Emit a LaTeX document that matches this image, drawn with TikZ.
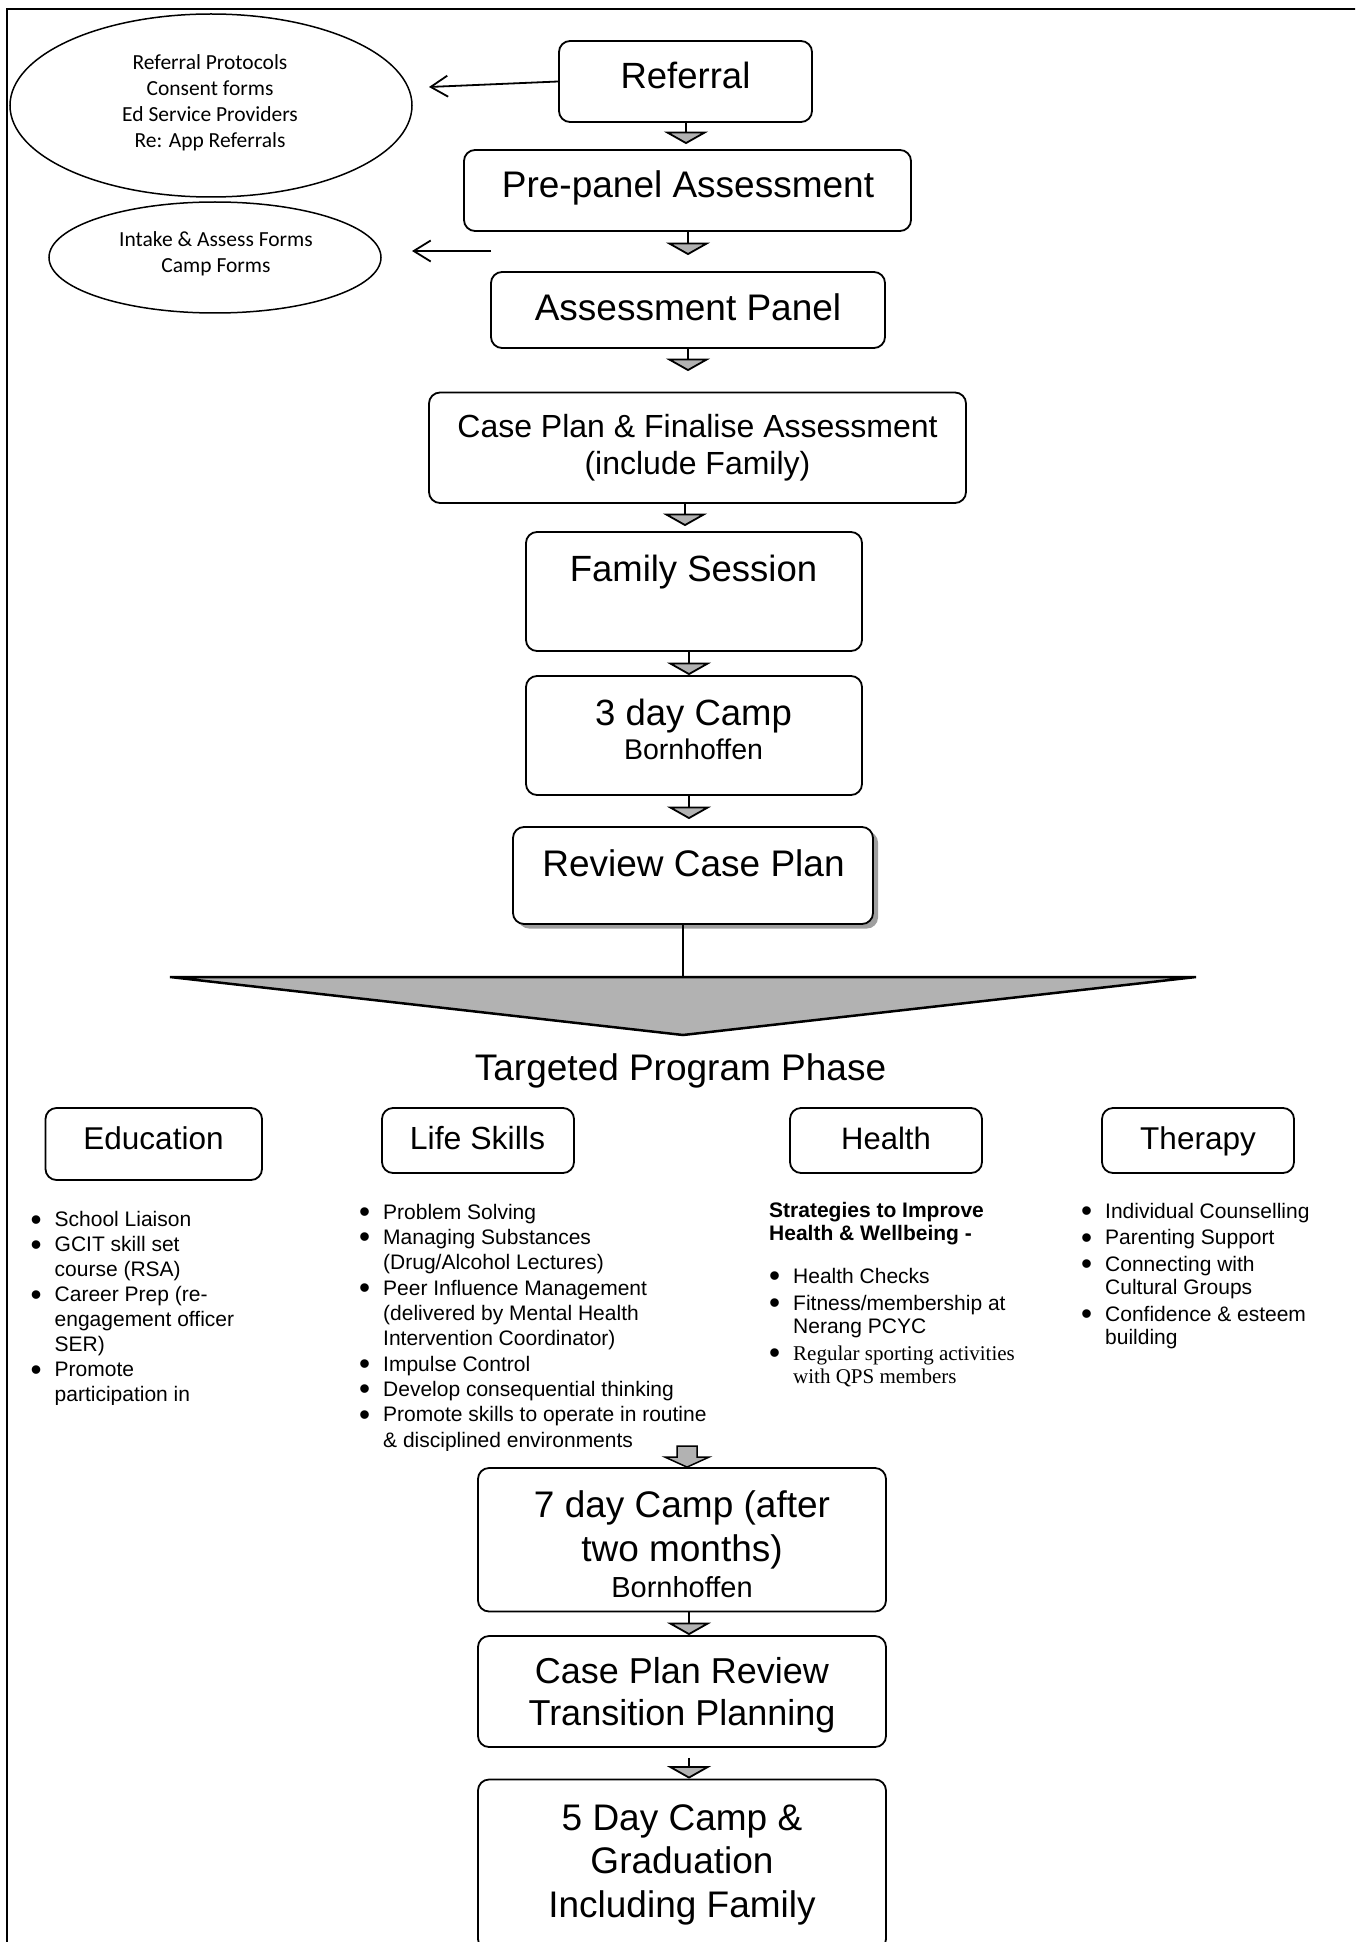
\documentclass[tikz,border=0pt]{standalone}
\usepackage{fontspec}
\setmainfont{Liberation Sans}
\newfontfamily\calib{Carlito}
\newfontfamily\tms{Liberation Serif}
\usetikzlibrary{shapes.geometric,arrows.meta,shadows}
\definecolor{trigray}{gray}{0.7}
\newcommand\fsz[2]{\fontsize{#1}{#2}\selectfont}
\newcommand\stkx[1]{\begin{tabular}[t]{@{}c@{}}#1\end{tabular}}
\newcommand\lstx[1]{\begin{tabular}[t]{@{}l@{}l@{}}#1\end{tabular}}
\newcommand\bulx{\makebox[23pt][l]{\hspace{-1pt}\smash{\raisebox{-3.3pt}{\scalebox{1.5}{\textbullet}}}}}
\begin{document}
\begin{tikzpicture}[x=1pt,y=-1pt,
  box/.style={draw, fill=white, line width=1.8pt, rounded corners=11pt, inner sep=0pt},
  ttl/.style={inner sep=0pt, anchor=base},
  lsty/.style={inner sep=0pt, anchor=base west, align=left},
  flowarr/.style={line width=1.8pt, -{Triangle[length=12.5pt,width=44pt,fill=trigray]}},
  thinarr/.style={line width=1.8pt, -{Straight Barb[length=17pt,width=21pt]}},
  ell/.style={ellipse, draw, line width=1.5pt, inner sep=0pt}]
\useasboundingbox (0,0) rectangle (1355,1942);
\clip (0,0) rectangle (1355,1942);
\draw[line width=2pt] (7,1960) -- (7,9) -- (1370,9);

% side ellipses
\node[ell, minimum width=402pt, minimum height=183pt] (el1) at (211,105.5) {};
\node[ttl] (el1t) at (210,70) {\calib\fsz{21.5}{25.8}\stkx{Referral Protocols\\Consent forms\\Ed Service Providers\\Re: App Referrals}};
\node[ell, minimum width=332pt, minimum height=111pt] (el2) at (215,257.5) {};
\node[ttl] (el2t) at (216,246.7) {\calib\fsz{21.5}{26}\stkx{Intake \& Assess Forms\\Camp Forms}};

% main column
\node[box, minimum width=253pt, minimum height=81pt] (ref) at (685.5,81.5) {};
\node[ttl] (reft) at (685.5,89) {\fsz{36.5}{42}Referral};
\node[box, minimum width=447pt, minimum height=81pt] (pre) at (687.5,190.5) {};
\node[ttl] (pret) at (688,198) {\fsz{37}{42}Pre-panel Assessment};
\node[box, minimum width=394pt, minimum height=76pt] (ap) at (688,310) {};
\node[ttl] (apt) at (688,320) {\fsz{37}{42}Assessment Panel};
\node[box, minimum width=537pt, minimum height=110.5pt] (cp) at (697.5,447.75) {};
\node[ttl] (cpt) at (697.5,437) {\fsz{32}{37}\stkx{Case Plan \& Finalise Assessment\\(include Family)}};
\node[box, minimum width=336pt, minimum height=119pt] (fam) at (694,591.5) {};
\node[ttl] (famt) at (693.5,581) {\fsz{36.5}{42}Family Session};
\node[box, minimum width=336pt, minimum height=119pt] (c3) at (694,735.5) {};
\node[ttl] (c3t) at (693.5,725) {\fsz{36.5}{42}3 day Camp};
\node[ttl] (c3b) at (693.5,759) {\fsz{28.5}{34}Bornhoffen};
\node[box, minimum width=360pt, minimum height=97pt,
      drop shadow={shadow xshift=5pt,shadow yshift=-4.5pt,fill=gray!75,opacity=1}] (rev) at (693,875.5) {};
\node[ttl] (revt) at (693.5,876) {\fsz{37}{42}Review Case Plan};

% side arrows
\coordinate (a1e) at (429,87);
\draw[thinarr] (ref.west) -- (a1e);
\coordinate (a2s) at (491,251);
\coordinate (a2e) at (412,251);
\draw[thinarr] (a2s) -- (a2e);

% flow connectors
\path ([xshift=0.5pt]ref.south) coordinate (f1);
\draw[flowarr, shorten >=5pt] (f1) -- (f1 |- pre.north);
\path ([xshift=0.5pt]pre.south) coordinate (f2);
\draw[flowarr, shorten >=16pt] (f2) -- (f2 |- ap.north);
\path (ap.south) coordinate (f3);
\draw[flowarr, shorten >=20.5pt] (f3) -- (f3 |- cp.north);
\path ([xshift=-12.5pt]cp.south) coordinate (f4);
\draw[flowarr, shorten >=5pt] (f4) -- (f4 |- fam.north);
\path ([xshift=-5pt]fam.south) coordinate (f5);
\draw[flowarr] (f5) -- (f5 |- c3.north);
\path ([xshift=-5pt]c3.south) coordinate (f6);
\draw[flowarr, shorten >=7pt] (f6) -- (f6 |- rev.north);

% big triangle
\coordinate (btl) at (170,977);
\coordinate (btr) at (1196,977);
\coordinate (bta) at (683,1035);
\path ([xshift=-10pt]rev.south) coordinate (f7);
\draw[line width=1.5pt] (f7) -- (f7 |- btl);
\draw[line width=2.5pt, fill=trigray, line join=miter] (btl) -- (btr) -- (bta) -- cycle;
\node[ttl] (tpp) at (680.5,1080) {\fsz{37}{42}Targeted Program Phase};

% program areas
\node[box, minimum width=216.5pt, minimum height=72pt] (edu) at (153.75,1144) {};
\node[ttl] (edut) at (153.5,1149) {\fsz{31.5}{36}Education};
\node[box, minimum width=192pt, minimum height=65pt] (life) at (478,1140.5) {};
\node[ttl] (lifet) at (477.5,1149) {\fsz{32}{36}Life Skills};
\node[box, minimum width=192pt, minimum height=65pt] (hea) at (886,1140.5) {};
\node[ttl] (heat) at (886,1149) {\fsz{31}{36}Health};
\node[box, minimum width=192pt, minimum height=65pt] (ther) at (1198,1140.5) {};
\node[ttl] (thert) at (1198,1149) {\fsz{31.5}{36}Therapy};

\begin{scope}
\clip (0,1190) rectangle (340,1404.5);
\node[lsty] (edul) at (31.5,1226.7) {\fsz{21}{25}\lstx{\bulx&School Liaison\\ \bulx&GCIT skill set\\ &course (RSA)\\ \bulx&Career Prep (re-\\ &engagement officer\\ &SER)\\ \bulx&Promote\\ &participation in}};
\end{scope}
\begin{scope}
\clip (340,1190) rectangle (760,1450);
\node[lsty] (lifel) at (360,1219.3) {\fsz{21}{25.3}\lstx{\bulx&Problem Solving\\ \bulx&Managing Substances\\ &(Drug/Alcohol Lectures)\\ \bulx&Peer Influence Management\\ &(delivered by Mental Health\\ &Intervention Coordinator)\\ \bulx&Impulse Control\\ \bulx&Develop consequential thinking\\ \bulx&Promote skills to operate in routine\\ &\& disciplined environments}};
\end{scope}
\node[lsty] (heah) at (769,1217) {\fsz{21}{23.3}\bfseries\begin{tabular}[t]{@{}l@{}}Strategies to Improve\\Health \& Wellbeing -\end{tabular}};
\node[lsty] (heal) at (770,1283.3) {\fsz{21}{23.3}\lstx{\bulx&Health Checks\\[3.4pt] \bulx&Fitness/membership at\\ &Nerang PCYC\\[3.4pt] \bulx&{\tms Regular sporting activities}\\ &{\tms with QPS members}}};
\node[lsty] (therl) at (1082,1218.3) {\fsz{21}{23.5}\lstx{\bulx&Individual Counselling\\[3pt] \bulx&Parenting Support\\[3pt] \bulx&Connecting with\\ &Cultural Groups\\[3pt] \bulx&Confidence \& esteem\\ &building}};

% final phase
\node[box, minimum width=408pt, minimum height=143.5pt] (c7) at (682,1539.75) {};
\node[ttl] (c7t) at (682,1517.5) {\fsz{37}{43.5}\stkx{7 day Camp (after\\two months)}};
\node[ttl] (c7b) at (682,1597) {\fsz{29}{34}Bornhoffen};
\path ([xshift=5pt]c7.north) coordinate (bat);
\draw[line width=1.5pt, fill=trigray, line join=miter] (bat) -- ++(-22,-10) -- ++(12,0) -- ++(0,-11) -- ++(20,0) -- ++(0,11) -- ++(12,0) -- cycle;

\node[box, minimum width=408pt, minimum height=111pt] (cpr) at (682,1691.5) {};
\node[ttl] (cprt) at (682,1683) {\fsz{36}{42}\stkx{Case Plan Review\\Transition Planning}};
\path ([xshift=7pt]c7.south) coordinate (f8);
\draw[flowarr] (f8) -- (f8 |- cpr.north);

\node[box, minimum width=408pt, minimum height=170.5pt] (c5) at (682,1864.75) {};
\node[ttl] (c5t) at (682,1830) {\fsz{37}{43.5}\stkx{5 Day Camp \&\\Graduation\\Including Family}};
\path ([xshift=7pt]cpr.south) coordinate (f9);
\draw[flowarr, shorten <=10pt] (f9) -- (f9 |- c5.north);
\end{tikzpicture}
\end{document}
